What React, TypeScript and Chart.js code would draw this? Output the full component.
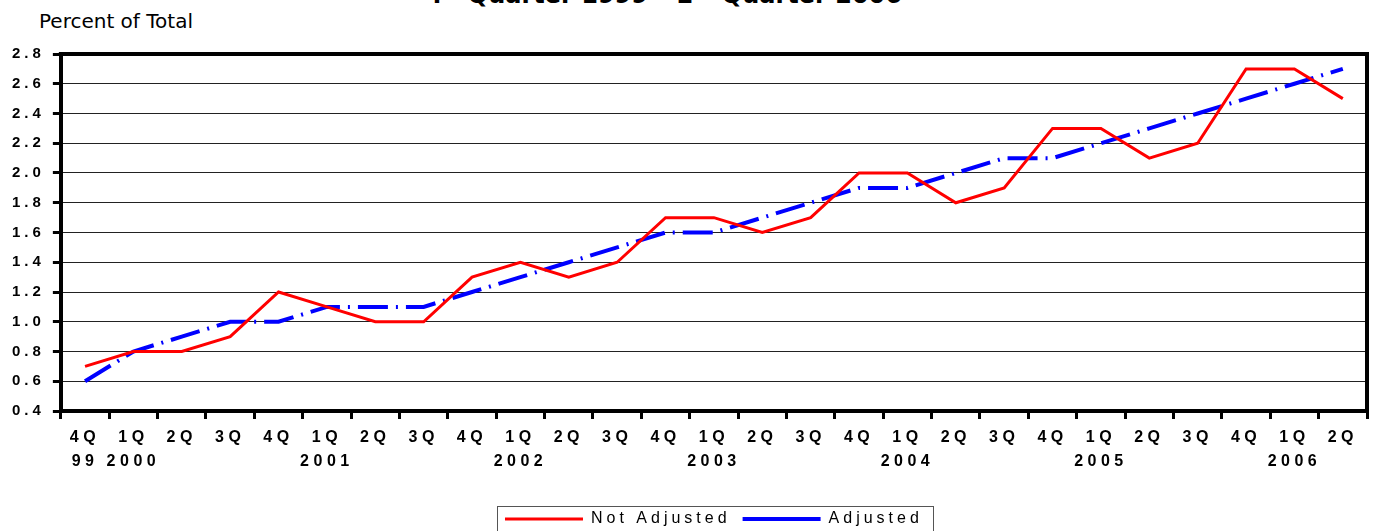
import { useEffect, useRef } from 'react';
import { Chart, registerables } from 'chart.js';

Chart.register(...registerables);

const quarterLabels = [
  '4Q',
  '1Q', '2Q', '3Q', '4Q',
  '1Q', '2Q', '3Q', '4Q',
  '1Q', '2Q', '3Q', '4Q',
  '1Q', '2Q', '3Q', '4Q',
  '1Q', '2Q', '3Q', '4Q',
  '1Q', '2Q', '3Q', '4Q',
  '1Q', '2Q',
];
const yearLabels = [
  '99',
  '2000', '', '', '',
  '2001', '', '', '',
  '2002', '', '', '',
  '2003', '', '', '',
  '2004', '', '', '',
  '2005', '', '', '',
  '2006', '',
];
const notAdjusted = [
  0.7, 0.8, 0.8, 0.9, 1.2, 1.1, 1.0, 1.0, 1.3, 1.4, 1.3, 1.4, 1.7, 1.7,
  1.6, 1.7, 2.0, 2.0, 1.8, 1.9, 2.3, 2.3, 2.1, 2.2, 2.7, 2.7, 2.5,
];
const adjusted = [
  0.6, 0.8, 0.9, 1.0, 1.0, 1.1, 1.1, 1.1, 1.2, 1.3, 1.4, 1.5, 1.6, 1.6,
  1.7, 1.8, 1.9, 1.9, 2.0, 2.1, 2.1, 2.2, 2.3, 2.4, 2.5, 2.6, 2.7,
];
const seriesNames = ['Not Adjusted', 'Adjusted'];
const yMin = 0.4;
const yMax = 2.8;
const yStep = 0.2;

const W = 1377;
const H = 537;

function spacingFor(font: string): string {
  const m = /(\d+(?:\.\d+)?)px/.exec(font);
  const size = m ? parseFloat(m[1]) : 12;
  const bold = /bold|700/.test(font);
  if (bold && size >= 16) return '4.5px';
  if (bold) return '4px';
  return '4px';
}

const framePlugin = {
  id: 'frame',
  afterDraw(chart: any) {
    const { ctx, chartArea: a } = chart;
    ctx.save();
    ctx.strokeStyle = '#000';
    ctx.lineWidth = 4;
    ctx.lineCap = 'square';
    ctx.beginPath();
    ctx.moveTo(a.left, a.top);
    ctx.lineTo(a.right, a.top);
    ctx.lineTo(a.right, a.bottom);
    ctx.stroke();
    const lg = chart.legend;
    const hb = lg && lg.legendHitBoxes;
    if (hb && hb.length) {
      const first = hb[0];
      const last = hb[hb.length - 1];
      const cy = first.top + first.height / 2;
      const left = first.left - 8;
      const right = last.left + last.width + 10;
      ctx.lineWidth = 1;
      ctx.strokeStyle = '#555';
      ctx.strokeRect(Math.round(left) + 0.5, Math.round(cy - 13) + 0.5, Math.round(right - left), 36);
    }
    ctx.restore();
  },
};

export default function App() {
  const ref = useRef<HTMLCanvasElement | null>(null);

  useEffect(() => {
    const canvas = ref.current;
    if (!canvas) return;
    const ctx = canvas.getContext('2d') as any;
    const origFill = ctx.fillText;
    const origMeasure = ctx.measureText;
    ctx.fillText = function (...args: any[]) {
      this.letterSpacing = spacingFor(this.font);
      return origFill.apply(this, args);
    };
    ctx.measureText = function (...args: any[]) {
      this.letterSpacing = spacingFor(this.font);
      return origMeasure.apply(this, args);
    };

    const labels = quarterLabels.map((q, i) => [q, yearLabels[i]]);

    const chart = new Chart(canvas, {
      type: 'line',
      data: {
        labels,
        datasets: [
          {
            label: seriesNames[0],
            data: notAdjusted,
            borderColor: '#ff0000',
            backgroundColor: '#ff0000',
            borderWidth: 3,
            pointRadius: 0,
            tension: 0,
            borderJoinStyle: 'miter',
            borderCapStyle: 'butt',
          },
          {
            label: seriesNames[1],
            data: adjusted,
            borderColor: '#0000ff',
            backgroundColor: '#0000ff',
            borderWidth: 4,
            borderDash: [30, 8, 2, 8],
            pointRadius: 0,
            tension: 0,
            borderJoinStyle: 'miter',
            borderCapStyle: 'butt',
          },
        ],
      },
      options: {
        responsive: false,
        animation: false,
        devicePixelRatio: 1,
        layout: { padding: { top: 54, right: 10, left: 4, bottom: 0 } },
        plugins: {
          title: { display: false },
          tooltip: { enabled: false },
          legend: {
            position: 'bottom',
            fullSize: false,
            align: 'center',
            labels: {
              usePointStyle: true,
              pointStyle: 'line',
              pointStyleWidth: 78,
              boxHeight: 16,
              padding: 12,
              color: '#000',
              font: { family: '"Liberation Sans", Arial, sans-serif', size: 16 },
            },
          },
        },
        scales: {
          x: {
            type: 'category',
            offset: true,
            grid: {
              offset: true,
              drawOnChartArea: false,
              drawTicks: true,
              tickLength: 8,
              tickColor: '#000',
              tickWidth: 3,
            },
            border: { display: true, color: '#000', width: 4 },
            ticks: {
              autoSkip: false,
              maxRotation: 0,
              minRotation: 0,
              padding: 7,
              color: '#000',
              font: { family: '"Liberation Sans", Arial, sans-serif', size: 16, weight: 'bold', lineHeight: 1.5 },
            },
            afterFit: (scale: any) => {
              scale.height += 18;
            },
          },
          y: {
            min: yMin,
            max: yMax,
            grid: {
              color: '#222',
              lineWidth: 1,
              drawTicks: true,
              tickLength: 8,
              tickColor: '#000',
              tickWidth: 3,
            },
            border: { display: true, color: '#000', width: 4 },
            ticks: {
              stepSize: yStep,
              padding: 8,
              color: '#000',
              font: { family: '"Liberation Sans", Arial, sans-serif', size: 15, weight: 'bold' },
              callback: (v: any) => Number(v).toFixed(1),
            },
          },
        },
      },
      plugins: [framePlugin],
    } as any);

    return () => {
      chart.destroy();
      ctx.fillText = origFill;
      ctx.measureText = origMeasure;
    };
  }, []);

  return (
    <div
      style={{
        position: 'fixed',
        left: 0,
        top: 0,
        width: W,
        height: 531,
        overflow: 'hidden',
        background: '#fff',
      }}
    >
      <div
        style={{
          position: 'absolute',
          left: 426,
          top: -23,
          whiteSpace: 'nowrap',
          fontFamily: '"DejaVu Sans", sans-serif',
          fontWeight: 'bold',
          fontSize: 24,
          lineHeight: '24px',
          color: '#000',
        }}
      >
        4<sup style={{ fontSize: 14 }}>th</sup> Quarter 1999 – 2<sup style={{ fontSize: 14 }}>nd</sup> Quarter 2006
      </div>
      <div
        style={{
          position: 'absolute',
          left: 39,
          top: 9,
          whiteSpace: 'nowrap',
          fontFamily: '"DejaVu Sans", sans-serif',
          fontSize: 20,
          lineHeight: '24px',
          color: '#000',
        }}
      >
        Percent of Total
      </div>
      <canvas
        ref={ref}
        width={W}
        height={H}
        style={{ position: 'absolute', left: 0, top: 0, width: W, height: H, display: 'block' }}
      />
    </div>
  );
}
